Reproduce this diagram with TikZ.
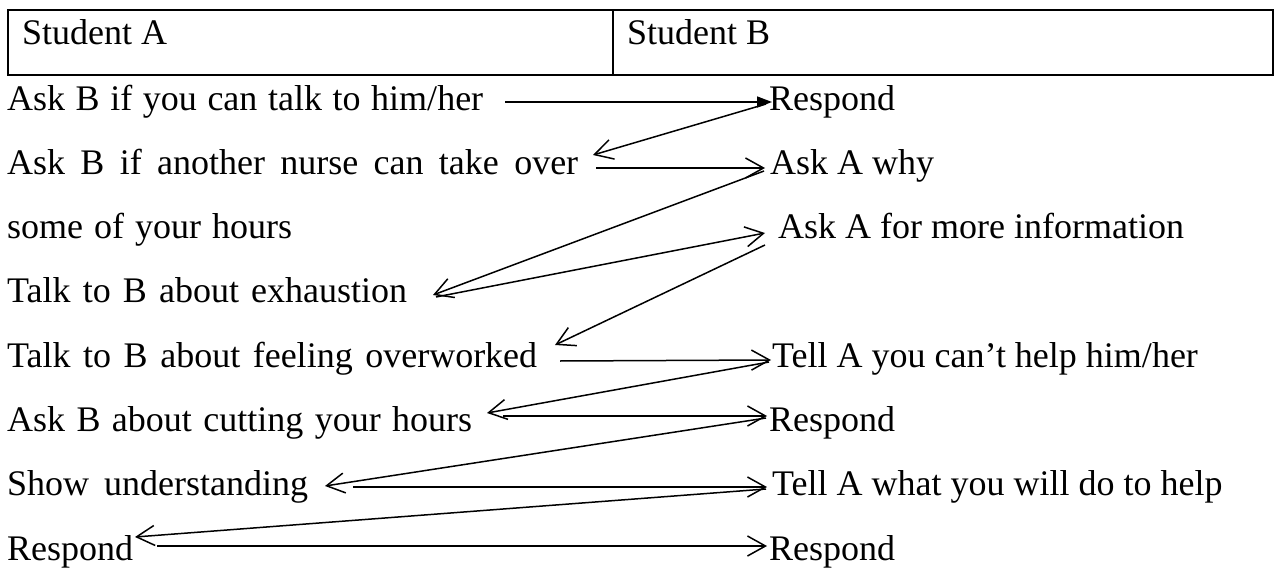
\documentclass[tikz,border=0pt]{standalone}
\usepackage{fontspec}
\setmainfont{Liberation Serif}
\usetikzlibrary{arrows.meta}
\begin{document}
\begin{tikzpicture}[x=1pt,y=-1pt,
  txt/.style={anchor=base west,inner sep=0pt,font=\fontsize{36}{40}\selectfont},
  link/.style={line width=1.5pt,-{Straight Barb[length=18pt,width=20pt,line width=1.5pt]}},
  firstlink/.style={line width=1.5pt,-{Triangle[length=15pt,width=11pt]}},
  frame/.style={line width=2.5pt},
  divider/.style={line width=2pt}]
\useasboundingbox (0,0) rectangle (1278,570);

% header table
\draw[frame] (8,10) rectangle (1273,75);
\draw[divider] (613,10) -- (613,75);
\node[txt] (hA) at (22,45) {Student A};
\node[txt] (hB) at (627,45) {Student B};

% Student A column (lines set to their justified widths)
\node[txt] (a1) at (7,110) {\makebox[476pt][s]{Ask B if you can talk to him/her}};
\node[txt] (a2) at (7,174) {\makebox[571pt][s]{Ask B if another nurse can take over}};
\node[txt] (a3) at (7,238) {\makebox[285pt][s]{some of your hours}};
\node[txt] (a4) at (7,302) {\makebox[400pt][s]{Talk to B about exhaustion}};
\node[txt] (a5) at (7,367) {\makebox[530pt][s]{Talk to B about feeling overworked}};
\node[txt] (a6) at (7,431) {\makebox[465pt][s]{Ask B about cutting your hours}};
\node[txt] (a7) at (7,495) {\makebox[301pt][s]{Show understanding}};
\node[txt] (a8) at (7,560) {Respond};

% Student B column
\node[txt] (b1) at (769,110) {Respond};
\node[txt] (b2) at (770,174) {Ask A why};
\node[txt] (b3) at (778,238) {Ask A for more information};
\node[txt] (b5) at (772,367) {Tell A you can’t help him/her};
\node[txt] (b6) at (769,431) {Respond};
\node[txt] (b7) at (772,495) {Tell A what you will do to help};
\node[txt] (b8) at (769,560) {Respond};

% arrow end points
\coordinate (a1out) at (505,102);
\coordinate (b1in)  at (772,102);
\coordinate (b1out) at (766,104);
\coordinate (a2in)  at (593,155);
\coordinate (a2out) at (596,168);
\coordinate (b2in)  at (765,168);
\coordinate (b2out) at (764,171);
\coordinate (a4in)  at (433,295);
\coordinate (a4out) at (436,297);
\coordinate (b3in)  at (765,233);
\coordinate (b3out) at (765,245);
\coordinate (a5in)  at (555,345);
\coordinate (a5out) at (560,361);
\coordinate (b5in)  at (771,360);
\coordinate (b5out) at (769,362);
\coordinate (a6in)  at (487,413);
\coordinate (a6out) at (503,416);
\coordinate (b6in)  at (767,416);
\coordinate (b6out) at (766,418);
\coordinate (a7in)  at (325,486);
\coordinate (a7out) at (353,487);
\coordinate (b7in)  at (767,487);
\coordinate (b7out) at (766,489);
\coordinate (a8in)  at (135,537);
\coordinate (a8out) at (157,546);
\coordinate (b8in)  at (767,546);

% conversation flow
\draw[firstlink] (a1out) -- (b1in);
\draw[link] (b1out) -- (a2in);
\draw[link] (a2out) -- (b2in);
\draw[link] (b2out) -- (a4in);
\draw[link] (a4out) -- (b3in);
\draw[link] (b3out) -- (a5in);
\draw[link] (a5out) -- (b5in);
\draw[link] (b5out) -- (a6in);
\draw[link] (a6out) -- (b6in);
\draw[link] (b6out) -- (a7in);
\draw[link] (a7out) -- (b7in);
\draw[link] (b7out) -- (a8in);
\draw[link] (a8out) -- (b8in);
\end{tikzpicture}
\end{document}
